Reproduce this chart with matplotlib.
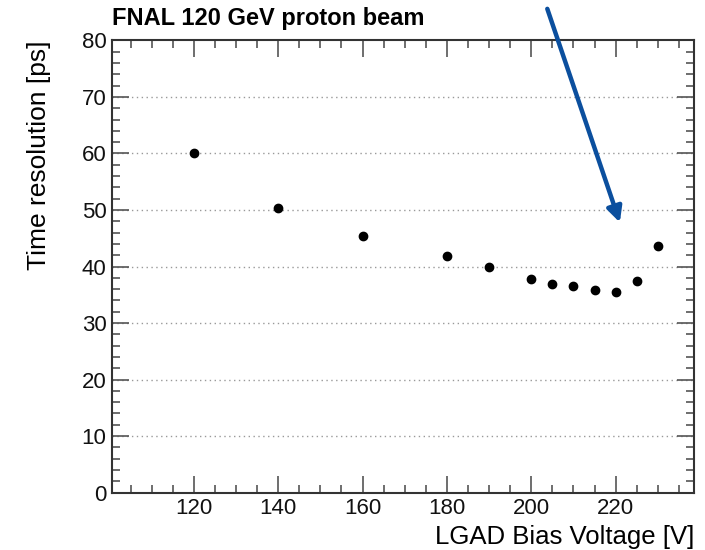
import matplotlib
matplotlib.use("Agg")
import matplotlib.pyplot as plt
from matplotlib.ticker import MultipleLocator

plt.rcParams['font.family'] = ['Liberation Sans', 'DejaVu Sans']

voltage = [120, 140, 160, 180, 190, 200, 205, 210, 215, 220, 225, 230]
time_res = [60.0, 50.4, 45.4, 41.8, 40.0, 37.8, 36.9, 36.5, 35.9, 35.5, 37.5, 43.7]

title = "FNAL 120 GeV proton beam"
xlabel = "LGAD Bias Voltage [V]"
ylabel = "Time resolution [ps]"
x_ticks = [120, 140, 160, 180, 200, 220]
y_ticks = [0, 10, 20, 30, 40, 50, 60, 70, 80]

fig = plt.figure(figsize=(7.05, 5.5), dpi=100)
ax = fig.add_axes([0.1589, 0.1045, 0.9851 - 0.1589, 0.9264 - 0.1045])

ax.plot(voltage, time_res, 'o', color='black', markersize=6, zorder=3)

ax.set_xlim(100.6, 238.7)
ax.set_ylim(0, 80)
ax.set_xticks(x_ticks)
ax.set_yticks(y_ticks)
ax.xaxis.set_minor_locator(MultipleLocator(5))
ax.yaxis.set_minor_locator(MultipleLocator(2))

ax.tick_params(which='both', direction='in', top=True, right=True, color='#555555', width=1.2)
ax.tick_params(which='major', length=12, labelsize=16, pad=4)
ax.tick_params(which='minor', length=6)
for lab in ax.get_xticklabels() + ax.get_yticklabels():
    lab.set_color('#111111')

for y in y_ticks[1:-1]:
    ax.axhline(y, color='#999999', linestyle=(0, (1, 2.5)), linewidth=1.0, zorder=1)

for s in ax.spines.values():
    s.set_linewidth(1.5)
    s.set_color('#333333')

ax.set_xlabel(xlabel, fontsize=18.5, ha='right', x=1.0, labelpad=4)
ax.set_ylabel(ylabel, fontsize=19, ha='right', y=1.0, labelpad=22)

fig.text(0.1589, 0.967, title, fontsize=17, fontweight='bold', ha='left', va='center')

ax.annotate('', xy=(221.0, 47.8), xytext=(203.8, 85.6), xycoords='data', textcoords='data',
            annotation_clip=False,
            arrowprops=dict(arrowstyle='-|>,head_length=0.9,head_width=0.45', color='#0b4f9e',
                            linewidth=3.2, shrinkA=0, shrinkB=0))

fig.savefig('out.png', dpi=100)
